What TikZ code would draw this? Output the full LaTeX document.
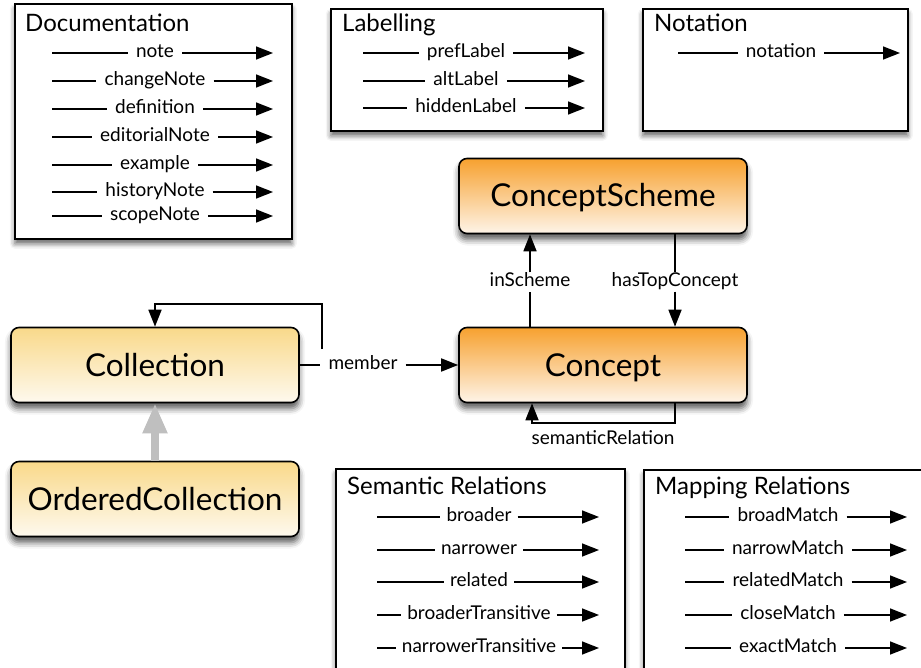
\documentclass[tikz,border=0pt]{standalone}
\usepackage{fontspec}
\setmainfont{Lato}
\usetikzlibrary{arrows.meta,shadows.blur}
\definecolor{schemetop}{HTML}{F7A12F}
\definecolor{schemebot}{HTML}{FEF4E8}
\definecolor{colltop}{HTML}{F9D98A}
\definecolor{collbot}{HTML}{FEF9EE}
\tikzset{
  catbox/.style={draw,line width=1.6pt,fill=white,anchor=north west,inner sep=0pt,
    blur shadow={shadow xshift=0pt,shadow yshift=-5pt,shadow blur radius=5pt,shadow opacity=60}},
  classbox/.style={draw,line width=1.6pt,rounded corners=8pt,minimum width=288pt,minimum height=75pt,
    font=\fontsize{31.5}{34}\selectfont,text height=24pt,text depth=2pt,
    blur shadow={shadow xshift=0pt,shadow yshift=-6pt,shadow blur radius=6pt,shadow opacity=65}},
  scheme/.style={classbox,top color=schemetop,bottom color=schemebot},
  collbox/.style={classbox,top color=colltop,bottom color=collbot},
  cattitle/.style={anchor=base west,inner sep=0pt,font=\fontsize{24}{27}\selectfont},
  rel/.style={font=\fontsize{19}{21}\selectfont,text height=13pt,text depth=4pt,inner xsep=8pt,inner ysep=1pt},
  line/.style={line width=1.6pt},
  arr/.style={line width=1.6pt,-{Triangle[length=17pt,width=13pt]}},
  isa/.style={line width=8pt,draw=black!25,-{Triangle[length=30pt,width=23pt]}}
}
\begin{document}
\begin{tikzpicture}[x=1pt,y=-1pt]
\useasboundingbox (0,0) rectangle (921,668);

% category boxes
\node[catbox,minimum width=277pt,minimum height=235pt] (docbox) at (14,3) {};
\node[catbox,minimum width=272pt,minimum height=122pt] (labbox) at (330,8) {};
\node[catbox,minimum width=265pt,minimum height=122pt] (notbox) at (642,8) {};
\node[catbox,minimum width=289pt,minimum height=230pt] (sembox) at (335,468) {};
\node[catbox,minimum width=300pt,minimum height=230pt] (mapbox) at (643,469) {};

\node[cattitle] (doctitle) at (25,32) {Documentation};
\node[cattitle] (labtitle) at (342,32) {Labelling};
\node[cattitle] (nottitle) at (654,32) {Notation};
\node[cattitle] (semtitle) at (347,494) {Semantic Relations};
\node[cattitle] (maptitle) at (655,494) {Mapping Relations};

% properties in the boxes
\foreach \lbl/\y [count=\i] in {note/53,changeNote/81,definition/109,editorialNote/137,example/165,historyNote/192,scopeNote/216}
{
\coordinate (doc-s\i) at (52,\y);
\coordinate (doc-e\i) at (273,\y);
\node[rel] (doc-\i) at (155,\y) {\lbl};
\draw[line] (doc-s\i) -- (doc-\i);
\draw[arr] (doc-\i) -- (doc-e\i);
}
\foreach \lbl/\y [count=\i] in {prefLabel/53,altLabel/81,hiddenLabel/108}
{
\coordinate (lab-s\i) at (363,\y);
\coordinate (lab-e\i) at (585,\y);
\node[rel] (lab-\i) at (466,\y) {\lbl};
\draw[line] (lab-s\i) -- (lab-\i);
\draw[arr] (lab-\i) -- (lab-e\i);
}
\coordinate (not-s1) at (678,53);
\coordinate (not-e1) at (900,53);
\node[rel] (not-1) at (781,53) {notation};
\draw[line] (not-s1) -- (not-1);
\draw[arr] (not-1) -- (not-e1);
\foreach \lbl/\y [count=\i] in {broader/517,narrower/550,related/582,broaderTransitive/615,narrowerTransitive/648}
{
\coordinate (sem-s\i) at (377,\y);
\coordinate (sem-e\i) at (599,\y);
\node[rel,inner xsep=6pt] (sem-\i) at (479,\y) {\lbl};
\draw[line] (sem-s\i) -- (sem-\i);
\draw[arr] (sem-\i) -- (sem-e\i);
}
\foreach \lbl/\y [count=\i] in {broadMatch/517,narrowMatch/550,relatedMatch/582,closeMatch/615,exactMatch/648}
{
\coordinate (map-s\i) at (685,\y);
\coordinate (map-e\i) at (907,\y);
\node[rel] (map-\i) at (788,\y) {\lbl};
\draw[line] (map-s\i) -- (map-\i);
\draw[arr] (map-\i) -- (map-e\i);
}

% classes
\node[scheme] (cscheme) at (603,196) {ConceptScheme};
\node[scheme] (concept) at (603,365) {Concept};
\node[collbox] (coll) at (155,365) {Collection};
\node[collbox] (ordcoll) at (155,499) {OrderedCollection};

\draw[isa] (ordcoll.north) -- (coll.south);

% member
\node[rel] (member) at (363,365) {member};
\draw[line] (coll.east) -- (member.west);
\draw[arr] (member.east) -- (concept.west);
\coordinate (loopstart) at (322,349);
\coordinate (looptop) at (322,304);
\draw[arr] (loopstart) -- (looptop) -| (coll.north);

% scheme relations
\node[rel] (insch) at (530,282) {inScheme};
\draw[line] (insch |- concept.north) -- (insch.south);
\draw[arr] (insch.north) -- (insch |- cscheme.south);
\node[rel] (topc) at (675,282) {hasTopConcept};
\draw[line] (topc |- cscheme.south) -- (topc.north);
\draw[arr] (topc.south) -- (topc |- concept.north);

% semantic relation loop
\coordinate (semr) at (675,423);
\coordinate (seml) at (532,423);
\draw[arr] (semr |- concept.south) -- (semr) -- (seml) -- (seml |- concept.south);
\node[rel] (semrel) at (603,440) {semanticRelation};
\end{tikzpicture}
\end{document}
